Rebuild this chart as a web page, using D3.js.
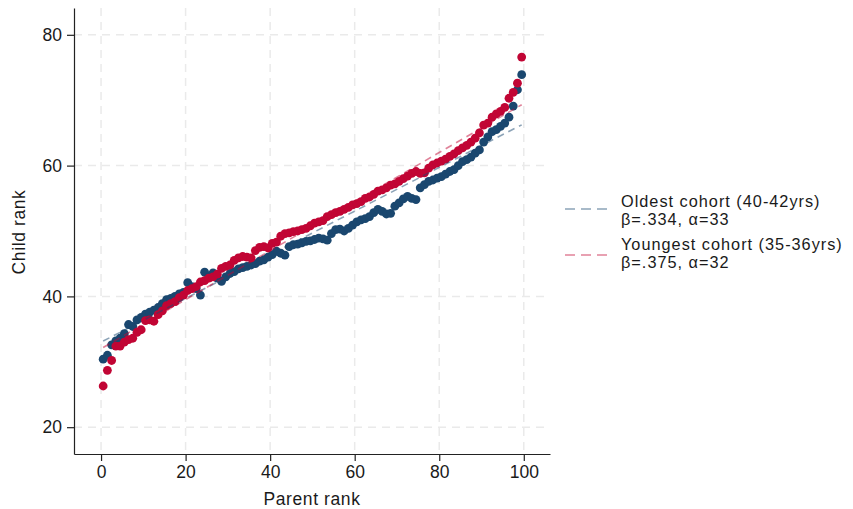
<!DOCTYPE html>
<html>
<head>
<meta charset="utf-8">
<script src="https://cdn.jsdelivr.net/npm/d3@7"></script>
<style>
  body { margin: 0; background: #fff; }
  text { font-family: "Liberation Sans", Arial, sans-serif; fill: #1a1a1a; }
</style>
</head>
<body>
<div id="chart"></div>
<script>
// Parent rank percentiles (bin centres)
const parentRank = d3.range(100).map(i => i + 0.5)

// Mean child rank, oldest cohort (40-42yrs)
const oldest = [
  30.4, 31.0, 32.6, 33.2, 33.6, 34.3, 35.7, 35.4, 36.4, 36.8,
  37.3, 37.6, 37.9, 38.3, 38.9, 39.5, 39.7, 40.0, 40.4, 40.6,
  42.1, 41.5, 41.2, 40.2, 43.7, 43.0, 43.6, 42.8, 42.3, 43.0,
  43.5, 43.8, 44.2, 44.4, 44.6, 44.8, 45.0, 45.4, 45.6, 46.0,
  46.4, 46.9, 46.6, 46.3, 47.6, 47.9, 48.0, 48.2, 48.4, 48.5,
  48.7, 48.9, 48.8, 48.6, 49.6, 50.2, 50.3, 50.0, 50.4, 50.9,
  51.4, 51.7, 51.9, 52.2, 52.8, 53.3, 53.0, 52.6, 52.7, 53.8,
  54.3, 54.9, 55.3, 55.0, 54.8, 56.6, 57.1, 57.6, 57.8, 58.1,
  58.3, 58.7, 59.1, 59.4, 60.0, 60.6, 60.9, 61.3, 61.9, 62.4,
  63.6, 64.4, 65.2, 65.5, 66.0, 66.5, 67.4, 69.1, 71.6, 73.9
]

// Mean child rank, youngest cohort (35-36yrs)
const youngest = [
  26.3, 28.7, 30.2, 32.4, 32.4, 33.0, 33.4, 33.6, 34.5, 34.9,
  36.3, 36.4, 36.2, 37.2, 37.8, 38.6, 38.9, 39.2, 39.8, 40.2,
  40.9, 41.2, 41.5, 42.2, 42.4, 42.8, 43.0, 43.4, 44.3, 44.6,
  44.8, 45.5, 45.9, 46.1, 46.0, 45.9, 47.0, 47.5, 47.6, 47.4,
  48.1, 48.3, 49.2, 49.6, 49.7, 49.9, 50.0, 50.2, 50.4, 50.8,
  51.2, 51.4, 51.6, 52.2, 52.5, 52.8, 53.0, 53.3, 53.6, 54.0,
  54.2, 54.5, 55.0, 55.2, 55.6, 56.1, 56.3, 56.6, 57.0, 57.2,
  57.6, 58.0, 58.4, 58.8, 59.1, 58.8, 58.9, 59.6, 60.1, 60.4,
  60.7, 61.0, 61.4, 61.8, 62.3, 62.7, 63.1, 63.6, 64.2, 65.0,
  66.2, 66.5, 67.4, 67.9, 68.3, 68.9, 70.3, 71.2, 72.6, 76.6
]

// Fitted lines
const fits = [
  { name: 'Oldest cohort (40-42yrs)', stats: 'β=.334, α=33', slope: 0.334, intercept: 33, color: '#1a476f', values: oldest },
  { name: 'Youngest cohort (35-36yrs)', stats: 'β=.375, α=32', slope: 0.375, intercept: 32, color: '#c10534', values: youngest }
]

const xTicks = [0, 20, 40, 60, 80, 100]
const yTicks = [20, 40, 60, 80]

const width = 853,
  height = 509

let svg = d3.select('#chart')
  .append('svg')
  .attr('width', width)
  .attr('height', height)

let x = d3.scaleLinear()
  .domain([-6.4, 106.2])
  .range([74, 550])

let y = d3.scaleLinear()
  .domain([15.9, 84.1])
  .range([454, 8])

// grid
svg.append('g')
  .selectAll('line')
  .data(xTicks)
  .enter()
  .append('line')
  .attr('x1', d => x(d)).attr('x2', d => x(d))
  .attr('y1', y.range()[1]).attr('y2', y.range()[0])
  .attr('stroke', '#eaeaea')
  .attr('stroke-width', 1.5)
  .attr('stroke-dasharray', '8,6')

svg.append('g')
  .selectAll('line')
  .data(yTicks)
  .enter()
  .append('line')
  .attr('x1', x.range()[0]).attr('x2', x.range()[1])
  .attr('y1', d => y(d)).attr('y2', d => y(d))
  .attr('stroke', '#eaeaea')
  .attr('stroke-width', 1.5)
  .attr('stroke-dasharray', '8,6')

// dots
fits.forEach(f => {
  svg.append('g')
    .selectAll('circle')
    .data(f.values)
    .enter()
    .append('circle')
    .attr('cx', (d, i) => x(parentRank[i]))
    .attr('cy', d => y(d))
    .attr('r', 4.4)
    .attr('fill', f.color)
})

// fitted lines
let x0 = parentRank[0], x1 = parentRank[parentRank.length - 1]
fits.forEach(f => {
  svg.append('line')
    .attr('x1', x(x0)).attr('y1', y(f.intercept + f.slope * x0))
    .attr('x2', x(x1)).attr('y2', y(f.intercept + f.slope * x1))
    .attr('stroke', f.color)
    .attr('stroke-opacity', 0.5)
    .attr('stroke-width', 1.6)
    .attr('stroke-dasharray', '7,5')
})

// axes
let xAxis = svg.append('g')
  .attr('transform', `translate(0, ${y.range()[0]})`)
  .call(d3.axisBottom(x).tickValues(xTicks).tickSize(7).tickSizeOuter(0).tickPadding(5))

let yAxis = svg.append('g')
  .attr('transform', `translate(${x.range()[0]}, 0)`)
  .call(d3.axisLeft(y).tickValues(yTicks).tickSize(7).tickSizeOuter(0).tickPadding(5))

;[xAxis, yAxis].forEach(a => {
  a.selectAll('path, line').attr('stroke', '#222').attr('stroke-width', 1.2)
  a.selectAll('text').attr('font-size', 17.5).attr('fill', '#1a1a1a')
    .style('font-family', '"Liberation Sans", Arial, sans-serif')
})

svg.append('text')
  .attr('x', (x.range()[0] + x.range()[1]) / 2)
  .attr('y', 505)
  .attr('text-anchor', 'middle')
  .attr('font-size', 17.5)
  .attr('letter-spacing', 0.6)
  .text('Parent rank')

svg.append('text')
  .attr('transform', `translate(25, 232) rotate(-90)`)
  .attr('text-anchor', 'middle')
  .attr('font-size', 17.5)
  .attr('letter-spacing', 0.6)
  .text('Child rank')

// legend
let legend = svg.append('g')
let lineY = [209, 255],
  textY = [206.5, 249.8]
fits.forEach((f, i) => {
  legend.append('line')
    .attr('x1', 565).attr('x2', 607)
    .attr('y1', lineY[i]).attr('y2', lineY[i])
    .attr('stroke', f.color)
    .attr('stroke-opacity', 0.5)
    .attr('stroke-width', 1.6)
    .attr('stroke-dasharray', '10,6')
  legend.append('text')
    .attr('x', 621).attr('y', textY[i])
    .attr('font-size', 16.3)
    .attr('letter-spacing', 1.0)
    .text(f.name)
  legend.append('text')
    .attr('x', 621).attr('y', textY[i] + 18)
    .attr('font-size', 16.3)
    .attr('letter-spacing', 1.0)
    .text(f.stats)
})
</script>
</body>
</html>
